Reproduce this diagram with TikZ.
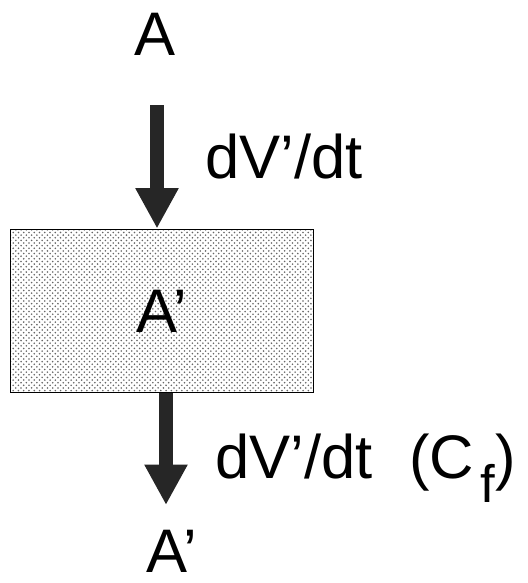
\documentclass[tikz,border=0pt]{standalone}
\usepackage{fontspec}
\setmainfont{Liberation Sans}
\usetikzlibrary{arrows.meta,patterns}
\begin{document}
\begin{tikzpicture}[x=0.02cm,y=-0.02cm,
    lbl/.style={font=\fontsize{35}{42}\selectfont,inner sep=0pt},
    flow/.style={line width=7.4pt,-{Triangle[width=23pt,length=23pt]},black!85},
    pool/.style={draw,line width=1.1pt,pattern=crosshatch dots,pattern color=black!60,
      minimum width=6.06cm,minimum height=3.26cm,inner sep=0pt}]
  \useasboundingbox (0,0) rectangle (528,583);
  \node[lbl,anchor=base] (src) at (155,55) {A};
  \node[pool,font=\fontsize{35}{42}\selectfont] (box) at (162,311) {A'};
  \node[lbl,anchor=base] (dst) at (172,572) {A'};
  \coordinate (in1) at (157,105);
  \coordinate (out1) at (166,505);
  \draw[flow] (in1) -- (in1 |- box.north);
  \draw[flow] (out1 |- box.south) -- (out1);
  \node[lbl,anchor=base west] (rate1) at (205,178) {dV'/dt};
  \node[lbl,anchor=base west] (rate2) at (215,478) {dV'/dt\hspace{0.6em}(C\hspace{0.1em}\raisebox{-0.4em}{\fontsize{30}{34}\selectfont f})};
\end{tikzpicture}
\end{document}
